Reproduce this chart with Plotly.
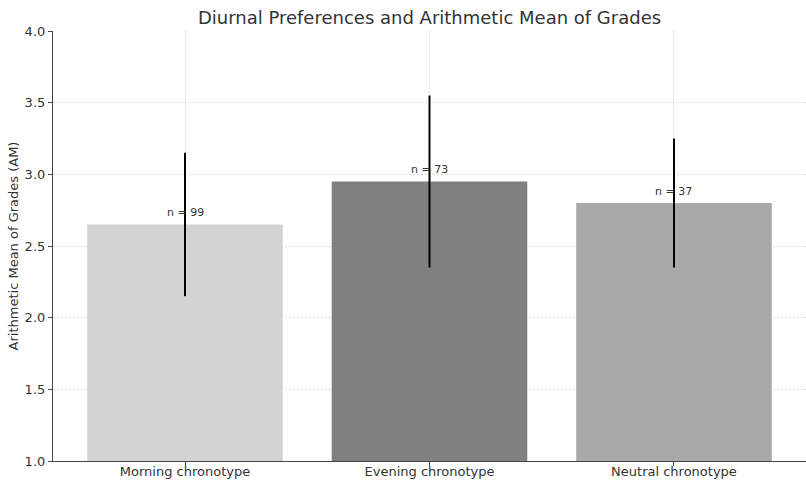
import plotly.graph_objects as go

categories = ["Morning chronotype", "Evening chronotype", "Neutral chronotype"]
means = [2.65, 2.95, 2.80]
errors = [0.50, 0.60, 0.45]
counts = [99, 73, 37]
colors = ["#d3d3d3", "#808080", "#a9a9a9"]

font = "DejaVu Sans"
fig = go.Figure()
fig.add_trace(go.Bar(
    x=categories, y=means, width=0.8,
    marker=dict(color=colors, line=dict(width=0)),
    error_y=dict(type="data", array=errors, visible=True, color="black", thickness=2, width=0),
    showlegend=False,
))
for c, m, n in zip(categories, means, counts):
    fig.add_annotation(x=c, y=m + 0.05, text=f"n = {n}", showarrow=False,
                       yanchor="bottom", xanchor="center", yshift=-4,
                       font=dict(family=font, size=11, color="#333333"))

fig.update_layout(
    width=806, height=481,
    margin=dict(l=53, r=0, t=31, b=20, autoexpand=False),
    paper_bgcolor="white", plot_bgcolor="white",
    title=dict(text="Diurnal Preferences and Arithmetic Mean of Grades",
               x=0.5, xref="paper", y=1 - 18 / 481, yref="container", yanchor="middle",
               font=dict(family=font, size=18, color="#333333")),
    font=dict(family=font, size=13, color="#333333"),
)
grid = dict(showgrid=True, gridcolor="#dcdcdc", griddash="2px,2px", gridwidth=0.8)
fig.update_xaxes(range=[-0.54, 2.54], showline=True, linecolor="#444444", linewidth=1.2,
                 ticks="outside", ticklen=4, tickcolor="#444444", automargin=False,
                 ticklabelstandoff=-6,
                 layer="above traces", tickfont=dict(size=13, color="#333333"), **grid)
fig.update_yaxes(range=[1.0, 4.0], tickvals=[1.0, 1.5, 2.0, 2.5, 3.0, 3.5, 4.0], tickformat=".1f",
                 showline=True, linecolor="#444444", linewidth=1.2,
                 ticks="outside", ticklen=4, tickcolor="#444444",
                 zeroline=False, layer="above traces", automargin=False,
                 title=dict(text="Arithmetic Mean of Grades (AM)", standoff=3,
                            font=dict(size=13, color="#333333")),
                 tickfont=dict(size=13, color="#333333"), **grid)

fig.write_html("out.html", config={"displayModeBar": False},
               post_script="document.body.style.margin='0';")
